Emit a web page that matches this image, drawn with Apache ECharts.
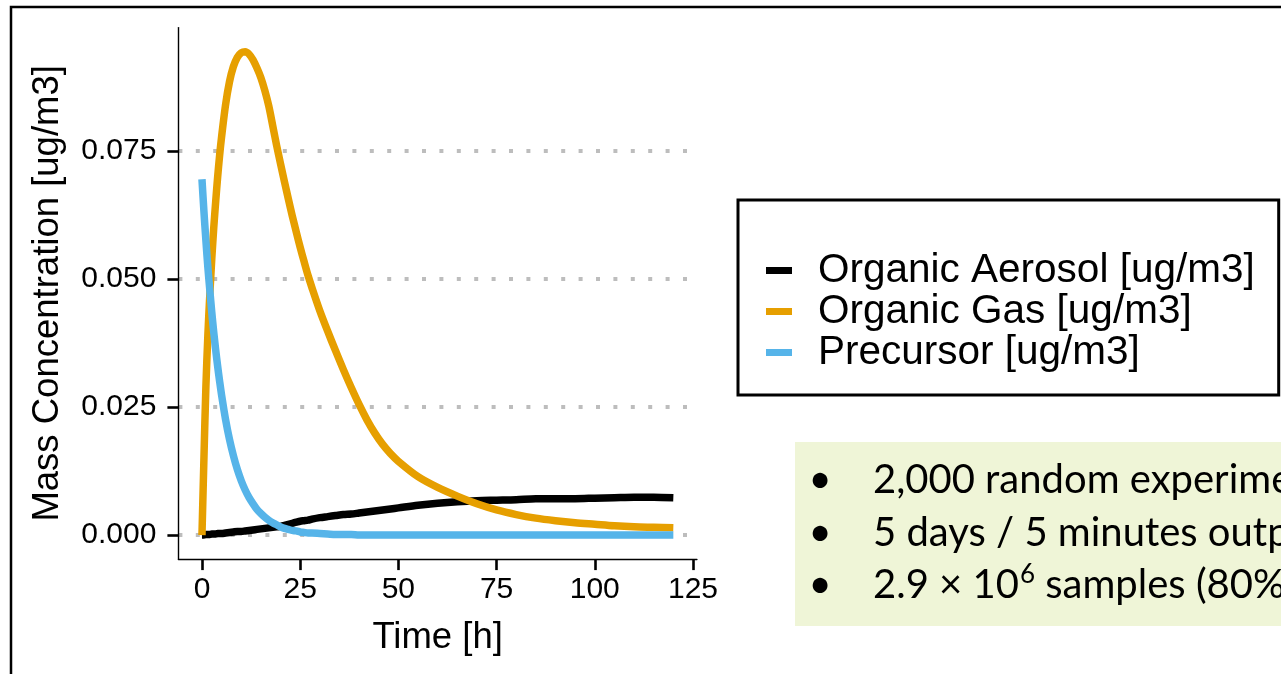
<!DOCTYPE html>
<html>
<head>
<meta charset="utf-8">
<title>Mass Concentration</title>
<script src="https://cdn.jsdelivr.net/npm/echarts@6/dist/echarts.min.js"></script>
<style>
  html, body { margin: 0; padding: 0; background: #ffffff; }
  #chart { width: 1281px; height: 674px; }
</style>
</head>
<body>
<div id="chart"></div>
<script>
// Simulation time axis [h]
const hours = [0, 0.5, 1, 1.5, 2, 2.5, 3, 3.5, 4, 4.5, 5,
  6, 7, 8, 9, 10, 11, 12, 13, 14, 15, 16, 17, 18, 19, 20, 21, 22, 23, 24, 25, 26, 27, 28,
  30, 32, 34, 36, 38, 40, 42, 44, 46, 48, 50,
  55, 60, 65, 70, 75, 80, 85, 90, 95, 100, 105, 110, 115, 120];

// Mass concentrations [ug/m3]
const organicAerosol = [0.0000, 0.0000, 0.0001, 0.0001, 0.0001, 0.0002, 0.0002, 0.0002, 0.0003, 0.0003, 0.0003,
  0.0004, 0.0005, 0.0006, 0.0007, 0.0007, 0.0008, 0.0009, 0.0010, 0.0011, 0.0012, 0.0013, 0.0014, 0.0015, 0.0016, 0.0017, 0.0019, 0.0021, 0.0023, 0.0025, 0.0027, 0.0028, 0.0029, 0.0031,
  0.0034, 0.0036, 0.0038, 0.0040, 0.0041, 0.0043, 0.0045, 0.0047, 0.0049, 0.0051, 0.0053,
  0.0058, 0.0062, 0.0065, 0.0067, 0.0068, 0.0069, 0.0071, 0.0071, 0.0071, 0.0072, 0.0073, 0.0074, 0.0074, 0.0073];

const organicGas = [0.0000, 0.0150, 0.0290, 0.0390, 0.0470, 0.0540, 0.0600, 0.0652, 0.0700, 0.0742, 0.0778,
  0.0840, 0.0885, 0.0915, 0.0933, 0.0942, 0.0944, 0.0939, 0.0928, 0.0912, 0.0893, 0.0868, 0.0838, 0.0800, 0.0761, 0.0725, 0.0690, 0.0656, 0.0623, 0.0592, 0.0562, 0.0534, 0.0507, 0.0483,
  0.0438, 0.0398, 0.0360, 0.0323, 0.0288, 0.0255, 0.0225, 0.0199, 0.0177, 0.0159, 0.0144,
  0.0114, 0.0093, 0.0076, 0.0061, 0.0049, 0.0040, 0.0033, 0.0028, 0.0024, 0.0021, 0.0018, 0.0016, 0.0015, 0.0014];

const precursor = [0.0695, 0.0632, 0.0575, 0.0523, 0.0478, 0.0435, 0.0396, 0.0361, 0.0329, 0.0300, 0.0273,
  0.0226, 0.0187, 0.0155, 0.0128, 0.0106, 0.0088, 0.0073, 0.0061, 0.0050, 0.0042, 0.0035, 0.0029, 0.0024, 0.0020, 0.0016, 0.0013, 0.0011, 0.0009, 0.0008, 0.0006, 0.0005, 0.0004, 0.0004,
  0.0003, 0.0002, 0.0001, 0.0001, 0.0001, 0.0000, 0.0000, 0.0000, 0.0000, 0.0000, 0.0000,
  0.0000, 0.0000, 0.0000, 0.0000, 0.0000, 0.0000, 0.0000, 0.0000, 0.0000, 0.0000, 0.0000, 0.0000, 0.0000, 0.0000];

const seriesNames = ['Organic Aerosol [ug/m3]', 'Organic Gas [ug/m3]', 'Precursor [ug/m3]'];
const seriesColors = ['#000000', '#E69F00', '#56B4E9'];
const seriesValues = [organicAerosol, organicGas, precursor];

// Tick positions
const xTicks = [0, 25, 50, 75, 100, 125];
const yTicks = [0, 0.025, 0.05, 0.075];

// Notes panel
const notes = ['2,000 random experiments', '5 days / 5 minutes output'];
const notesLast = { base: '2.9 \u00d7 10', sup: '6', rest: ' samples (80%' };

const FONT = '"Liberation Sans", Arial, Helvetica, sans-serif';
const NOTE_FONT = 'Lato, "Open Sans", sans-serif';
const NOTE_SIZE = 40;

function measure(text, size, family) {
  const c = document.createElement('canvas').getContext('2d');
  c.font = size + 'px ' + family;
  return c.measureText(text).width;
}

const series = seriesNames.map((name, k) => ({
  name: name,
  type: 'line',
  data: hours.map((h, i) => [h, seriesValues[k][i]]),
  showSymbol: false,
  symbol: 'none',
  smooth: 0.3,
  lineStyle: { color: seriesColors[k], width: 7.5, cap: 'butt', join: 'round' },
  itemStyle: { color: seriesColors[k], borderWidth: 0 },
  emphasis: { disabled: true },
  z: 3 + k
}));

// Frame and notes panel
const noteX = 873;
const noteBulletX = 820;
const noteY = [480, 533, 585];
const graphics = [
  { type: 'rect', silent: true, z: 0,
    shape: { x: 11, y: 7, width: 1400, height: 800 },
    style: { fill: null, stroke: '#000000', lineWidth: 2.5 } },
  { type: 'rect', silent: true, z: 1,
    shape: { x: 795, y: 442, width: 520, height: 184 },
    style: { fill: '#EFF5D7' } }
];
noteY.forEach((y) => {
  graphics.push({ type: 'text', silent: true, z: 2, x: noteBulletX, y: y,
    style: { text: '\u2022', font: NOTE_SIZE + 'px ' + NOTE_FONT, fill: '#000', align: 'center', verticalAlign: 'middle' } });
});
notes.forEach((t, i) => {
  graphics.push({ type: 'text', silent: true, z: 2, x: noteX, y: noteY[i],
    style: { text: t, font: NOTE_SIZE + 'px ' + NOTE_FONT, fill: '#000', align: 'left', verticalAlign: 'middle' } });
});
const baseW = measure(notesLast.base, NOTE_SIZE, NOTE_FONT);
const supW = measure(notesLast.sup, 26, NOTE_FONT);
graphics.push({ type: 'text', silent: true, z: 2, x: noteX, y: noteY[2],
  style: { text: notesLast.base, font: NOTE_SIZE + 'px ' + NOTE_FONT, fill: '#000', align: 'left', verticalAlign: 'middle' } });
graphics.push({ type: 'text', silent: true, z: 2, x: noteX + baseW + 1, y: noteY[2] - 10,
  style: { text: notesLast.sup, font: '26px ' + NOTE_FONT, fill: '#000', align: 'left', verticalAlign: 'middle' } });
graphics.push({ type: 'text', silent: true, z: 2, x: noteX + baseW + 1 + supW, y: noteY[2],
  style: { text: notesLast.rest, font: NOTE_SIZE + 'px ' + NOTE_FONT, fill: '#000', align: 'left', verticalAlign: 'middle' } });

const chart = echarts.init(document.getElementById('chart'), null, { renderer: 'canvas', width: 1281, height: 674 });
chart.setOption({
  animation: false,
  backgroundColor: '#ffffff',
  textStyle: { fontFamily: FONT },
  grid: {
    left: 178.4, top: 27.6, width: 518.5, height: 531.5,
    containLabel: false, outerBoundsMode: 'none'
  },
  xAxis: {
    type: 'value', min: -6, max: 126,
    name: 'Time [h]', nameLocation: 'middle', nameGap: 60,
    nameTextStyle: { fontSize: 36.5, color: '#000', fontFamily: FONT },
    axisLine: { show: true, onZero: false, lineStyle: { color: '#000', width: 1.4 } },
    axisTick: { show: true, customValues: xTicks, length: 11, lineStyle: { color: '#000', width: 2.6 } },
    axisLabel: { show: true, customValues: xTicks, fontSize: 30, color: '#000', margin: 16, fontFamily: FONT },
    splitLine: { show: false }
  },
  yAxis: {
    type: 'value', min: -0.0047, max: 0.0991,
    name: 'Mass Concentration [ug/m3]', nameLocation: 'middle', nameGap: 112,
    nameTextStyle: { fontSize: 36.5, color: '#000', fontFamily: FONT },
    axisLine: { show: true, onZero: false, lineStyle: { color: '#000', width: 1.4 } },
    axisTick: { show: true, customValues: yTicks, length: 11, lineStyle: { color: '#000', width: 2.6 } },
    axisLabel: { show: true, customValues: yTicks, fontSize: 30, color: '#000', margin: 22, fontFamily: FONT,
      formatter: (v) => Number(v).toFixed(3) },
    splitLine: { show: true, lineStyle: { color: '#BDBDBD', width: 4, type: [4, 13.4] } }
  },
  legend: {
    orient: 'vertical', left: 738, top: 200,
    data: seriesNames, icon: 'rect', itemWidth: 26, itemHeight: 7, itemGap: 0,
    padding: [50, 24, 22, 28],
    borderColor: '#000', borderWidth: 3, backgroundColor: '#ffffff',
    selectedMode: false,
    itemStyle: { borderWidth: 0 },
    textStyle: { fontFamily: FONT, fontSize: 40.5, color: '#000', lineHeight: 37.5, padding: [0, 0, 0, 21] }
  },
  graphic: graphics,
  series: series
});
</script>
</body>
</html>
